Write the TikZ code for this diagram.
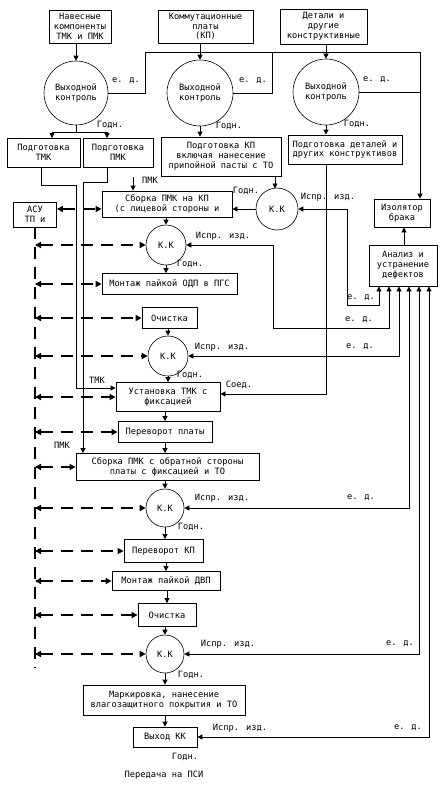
\documentclass[tikz,border=0pt]{standalone}
\usepackage{fontspec}
\setmainfont{DejaVu Sans Mono}
\usetikzlibrary{arrows.meta}
\begin{document}
\begin{tikzpicture}[x=1pt,y=-1pt,
 every node/.style={font=\fontsize{8.7}{9.8}\selectfont, inner sep=0pt},
 box/.style={draw, line width=0.8pt, align=center, rectangle},
 kk/.style={draw, circle, line width=0.6pt},
 ln/.style={line width=0.8pt},
 arr/.style={line width=0.8pt, -{Triangle[length=5pt,width=5pt]}},
 barr/.style={line width=0.8pt, {Triangle[length=5pt,width=5pt]}-{Triangle[length=5pt,width=5pt]}},
 darr/.style={line width=2pt, dash pattern=on 12pt off 8pt, {Triangle[length=6pt,width=6pt]}-{Triangle[length=6pt,width=6pt]}},
 dln/.style={line width=2pt, dash pattern=on 12pt off 8pt},
]
\useasboundingbox[fill=white] (0,0) rectangle (441,792);

% top boxes
\node[box, minimum width=62pt, minimum height=33pt] (b1) at (80,26.5) {Навесные\\компоненты\\ТМК и ПМК};
\node[box, minimum width=95pt, minimum height=33pt] (b2) at (205.5,26.5) {Коммутационные\\платы\\(КП)};
\node[box, minimum width=87pt, minimum height=35pt] (b3) at (323.5,26.5) {Детали и\\другие\\конструктивные};

% output control circles
\node[kk, minimum size=64pt, align=center] (c1) at (76,93) {Выходной\\контроль};
\node[kk, minimum size=66pt, align=center] (c2) at (200,93) {Выходной\\контроль};
\node[kk, minimum size=66pt, align=center] (c3) at (326,92) {Выходной\\контроль};

\draw[arr] (b1.south -| c1.north) -- (c1.north);
\draw[arr] (b2.south -| c2.north) -- (c2.north);
\draw[arr] (b3.south -| c3.north) -- (c3.north);

% preparation boxes
\node[box, minimum width=73pt, minimum height=29pt] (p1) at (43.5,152.5) {Подготовка\\ТМК};
\node[box, minimum width=70pt, minimum height=29pt] (p2) at (118,152.5) {Подготовка\\ПМК};
\node[box, minimum width=120pt, minimum height=39pt] (p3) at (221,156.5) {Подготовка КП\\включая нанесение\\припойной пасты с ТО};
\node[box, minimum width=114pt, minimum height=29pt] (p4) at (345,149.5) {Подготовка деталей и\\других конструктивов};

% e.d. lines at top
\coordinate (t1) at (145,52);
\coordinate (t2) at (272,52);
\coordinate (t3) at (420,52);
\draw[ln] (c1.east) -- (c1.east -| t1) -- (t1) -- (t3);
\draw[ln] (c2.east) -- (c2.east -| t2) -- (t2);
\draw[ln] (c3.east) -- (c3.east -| t3);
\node (e1) at (126,81) {е. д.};
\node (e2) at (253,81) {е. д.};
\node (e3) at (377,80) {е. д.};

% good outputs of circles
\coordinate (j1) at (76,132);
\draw[ln] (c1.south) -- (j1);
\draw[ln] (52,132) -- (107,132);
\draw[arr] (52,132) -- (52,138);
\draw[arr] (107,132) -- (107,138);
\draw[arr] (c2.south) -- (c2.south |- p3.north);
\draw[arr] (c3.south) -- (c3.south |- p4.north);
\node (g1) at (110,125) {Годн.};
\node (g2) at (229,126) {Годн.};
\node (g3) at (357,124) {Годн.};

% main column
\node[box, minimum width=130pt, minimum height=26pt] (s1) at (167,204) {Сборка ПМК на КП\\(с лицевой стороны и};
\node[kk, minimum size=42pt] (kk1) at (277,209) {К.К};
\node[kk, minimum size=40pt] (kk2) at (166,245) {К.К};
\node[box, minimum width=135pt, minimum height=21pt] (m1) at (169.5,284) {Монтаж пайкой ОДП в ПГС};
\node[box, minimum width=55pt, minimum height=21pt] (o1) at (169.5,318) {Очистка};
\node[kk, minimum size=40pt] (kk3) at (168,356) {К.К};
\node[box, minimum width=104pt, minimum height=29pt] (u1) at (168,397) {Установка ТМК с\\фиксацией};
\node[box, minimum width=94pt, minimum height=21pt] (pp) at (165,432) {Переворот платы};
\node[box, minimum width=183pt, minimum height=27pt] (s2) at (167.5,467) {Сборка ПМК с обратной стороны\\платы с фиксацией и ТО};
\node[kk, minimum size=38pt] (kk4) at (165,508) {К.К};
\node[box, minimum width=79pt, minimum height=23pt] (pk) at (163.5,551) {Переворот КП};
\node[box, minimum width=108pt, minimum height=19pt] (m2) at (166,581) {Монтаж пайкой ДВП};
\node[box, minimum width=58pt, minimum height=23pt] (o2) at (167,615) {Очистка};
\node[kk, minimum size=38pt] (kk5) at (165,654) {К.К};
\node[box, minimum width=162pt, minimum height=30pt] (mk) at (164,700) {Маркировка, нанесение\\влагозащитного покрытия и ТО};
\node[box, minimum width=64pt, minimum height=20pt] (vk) at (165,737) {Выход КК};
\node (g9) at (185,757) {Годн.};
\node (psi) at (164,775) {Передача на ПСИ};

% vertical flow arrows
\draw[arr] (275,176) -- (275,188.5);
\draw[arr] (kk1.west) -- (kk1.west -| s1.east);
\draw[arr] (s1.south -| kk2.north) -- (kk2.north);
\draw[arr] (kk2.south) -- (kk2.south |- m1.north);
\draw[arr] (o1.south -| kk3.north) -- (kk3.north);
\draw[arr] (kk3.south) -- (kk3.south |- u1.north);
\draw[arr] (u1.south -| pp.north) -- (pp.north);
\draw[arr] (pp.south) -- (pp.south |- s2.north);
\draw[arr] (s2.south -| kk4.north) -- (kk4.north);
\draw[arr] (kk4.south) -- (kk4.south |- pk.north);
\draw[arr] (pk.south -| m2.north) -- (m2.north);
\draw[arr] (m2.south -| o2.north) -- (o2.north);
\draw[arr] (o2.south -| kk5.north) -- (kk5.north);
\draw[arr] (kk5.south) -- (kk5.south |- mk.north);
\draw[arr] (mk.south -| vk.north) -- (vk.north);
\node (g4) at (246,191) {Годн.};
\node (g5) at (190,264) {Годн.};
\node (g6) at (190,375) {Годн.};
\node (g7) at (191,527) {Годн.};
\node (g8) at (191,675) {Годн.};

% TMK / PMK feed lines
\draw[arr] (p1.south -| 41,0) -- (41,185) -- (76,185) -- (76,388) -- (u1.west |- 0,388);
\node (tmk) at (97,380) {ТМК};
\draw[arr] (p2.south -| 107,0) -- (107,182) -- (83,182) -- (83,0 |- s2.north);
\node (pmk1) at (62,445) {ПМК};
\coordinate (pmkst) at (133,177);
\draw[arr] (pmkst) -- (pmkst |- s1.north);
\node (pmk2) at (150,180) {ПМК};

% connect line
\draw[arr] (p4.south -| c3.south) -- (326,394) -- (u1.east |- 0,394);
\node (soed) at (239,385) {Соед.};

% ASU
\node[box, minimum width=43pt, minimum height=25pt] (asu) at (35,214.5) {АСУ\\ТП и};
\coordinate (vbot) at (35,668);
\draw[dln] (asu.south) -- (vbot);
\draw[darr] (asu.east |- 0,209) -- (s1.west |- 0,209);
\draw[darr] (vbot |- kk2.west) -- (kk2.west);
\draw[darr] (vbot |- m1.west) -- (m1.west);
\draw[darr] (vbot |- o1.west) -- (o1.west);
\draw[darr] (vbot |- kk3.west) -- (kk3.west);
\draw[darr] (vbot |- u1.west) -- (u1.west);
\draw[darr] (vbot |- pp.west) -- (pp.west);
\draw[darr] (vbot |- s2.west) -- (s2.west);
\draw[darr] (vbot |- kk4.west) -- (kk4.west);
\draw[darr] (vbot |- pk.west) -- (pk.west);
\draw[darr] (vbot |- m2.west) -- (m2.west);
\draw[darr] (vbot |- o2.west) -- (o2.west);
\draw[darr] (vbot |- kk5.west) -- (kk5.west);

% right side
\node[box, minimum width=56pt, minimum height=28pt] (iz) at (402,213) {Изолятор\\брака};
\node[box, minimum width=68pt, minimum height=41pt] (an) at (403,265.5) {Анализ и\\устранение\\дефектов};
\draw[arr] (an.north -| 404,0) -- (iz.south -| 404,0);
\draw[arr] (t3) -- (t3 |- iz.north);

\draw[barr] (kk1.east) -- (347,209) -- (347,305) -- (379,305) -- (379,0 |- an.south);
\node (i1) at (328,197) {Испр. изд.};
\node (e4) at (361,298) {е. д.};
\draw[barr] (kk2.east) -- (273,245) -- (273,328) -- (389,328) -- (389,0 |- an.south);
\node (i2) at (223,236) {Испр. изд.};
\node (e5) at (359,320) {е. д.};
\draw[barr] (kk3.east) -- (399,356) -- (399,0 |- an.south);
\node (i3) at (222,347) {Испр. изд.};
\node (e6) at (360,347) {е. д.};
\draw[barr] (kk4.east) -- (409,508) -- (409,0 |- an.south);
\node (i4) at (222,498) {Испр. изд.};
\node (e7) at (361,498) {е. д.};
\draw[barr] (kk5.east) -- (419,654) -- (419,0 |- an.south);
\node (i5) at (228,644) {Испр. изд.};
\node (e8) at (400,644) {е. д.};
\draw[barr] (vk.east) -- (429,737) -- (429,0 |- an.south);
\node (i6) at (240,728) {Испр. изд.};
\node (e9) at (408,728) {е. д.};
\end{tikzpicture}
\end{document}
